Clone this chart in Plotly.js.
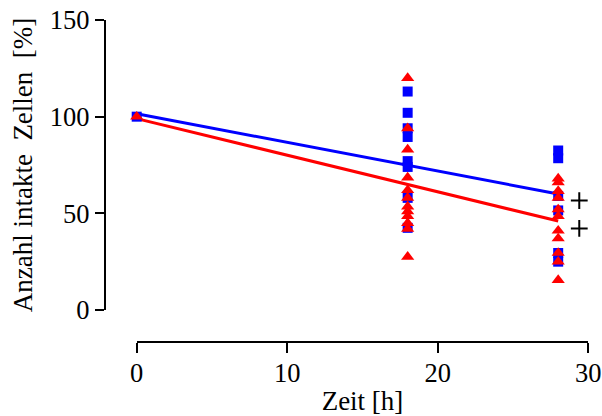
<!DOCTYPE html>
<html>
<head>
<meta charset="utf-8">
<script src="https://cdn.plot.ly/plotly-3.0.1.min.js"></script>
<style>html,body{margin:0;padding:0;background:#fff;}</style>
</head>
<body>
<div id="chart" style="width:602px;height:416px;"></div>
<script>
// Data
const blueTime = [0, 18, 18, 18, 18, 18, 18, 18, 18, 28, 28, 28, 28, 28, 28];
const blueValue = [100, 113, 102, 94, 89.5, 77, 74, 58, 42.5, 82.5, 78.5, 59, 51.5, 29.5, 25];

const redTime = [0, 18, 18, 18, 18, 18, 18, 18, 18, 18, 18, 18, 18,
                 28, 28, 28, 28, 28, 28, 28, 28, 28, 28, 28];
const redValue = [100, 120, 94, 83, 68.5, 62, 58, 53.5, 51, 48.5, 45, 42, 27.5,
                  68, 66, 61.5, 58, 52, 48.5, 41, 37, 29.5, 25, 15.5];

const fitTime = [0, 28];
const blueFit = [101.5, 60];
const redFit = [99, 46];

const plusTime = [29.4, 29.4];
const plusValue = [56.6, 42.2];

const xTicks = [0, 10, 20, 30];
const yTicks = [0, 50, 100, 150];

const W = 602, H = 416;
const tickFont = {family: 'Liberation Serif', color: '#000', size: 26.5};
const titleFont = {family: 'Liberation Serif', color: '#000', size: 27};

const traces = [
  {x: fitTime, y: blueFit, mode: 'lines', line: {color: '#0000ff', width: 3}, hoverinfo: 'skip'},
  {x: fitTime, y: redFit, mode: 'lines', line: {color: '#ff0000', width: 3}, hoverinfo: 'skip'},
  {x: blueTime, y: blueValue, mode: 'markers', marker: {symbol: 'square', size: 10, color: '#0000ff'}, cliponaxis: false},
  {x: redTime, y: redValue, mode: 'markers', marker: {symbol: 'triangle-up', size: 11.5, color: '#ff0000'}, cliponaxis: false},
  {x: plusTime, y: plusValue, mode: 'markers', marker: {symbol: 'cross-thin', size: 12, line: {color: '#000', width: 2}}, cliponaxis: false}
];

const layout = {
  width: W, height: H,
  margin: {l: 0, r: 0, t: 0, b: 0},
  paper_bgcolor: '#fff', plot_bgcolor: 'rgba(0,0,0,0)',
  showlegend: false,
  font: tickFont,
  xaxis: {
    domain: [136.7 / W, 588.3 / W],
    range: [0, 30],
    anchor: 'free', position: 1 - 342 / H,
    tickvals: xTicks, ticktext: xTicks.map(String),
    showgrid: false, zeroline: false,
    showline: true, linecolor: '#000', linewidth: 2,
    ticks: 'outside', ticklen: 10, tickwidth: 2, tickcolor: '#000',
    tickfont: tickFont, ticklabelstandoff: -3,
    automargin: false,
    title: {text: 'Zeit [h]', font: titleFont, standoff: 4}
  },
  yaxis: {
    domain: [1 - 310 / H, 1 - 20 / H],
    range: [0, 150],
    anchor: 'free', position: 104.7 / W,
    tickvals: yTicks, ticktext: yTicks.map(String),
    showgrid: false, zeroline: false,
    showline: true, linecolor: '#000', linewidth: 2,
    ticks: 'outside', ticklen: 9, tickwidth: 2, tickcolor: '#000',
    tickfont: tickFont,
    automargin: false,
    title: {text: 'Anzahl intakte\u00A0 Zellen\u00A0 [%]', font: titleFont, standoff: 8}
  }
};

Plotly.newPlot('chart', traces, layout, {displayModeBar: false, staticPlot: true});
</script>
</body>
</html>
